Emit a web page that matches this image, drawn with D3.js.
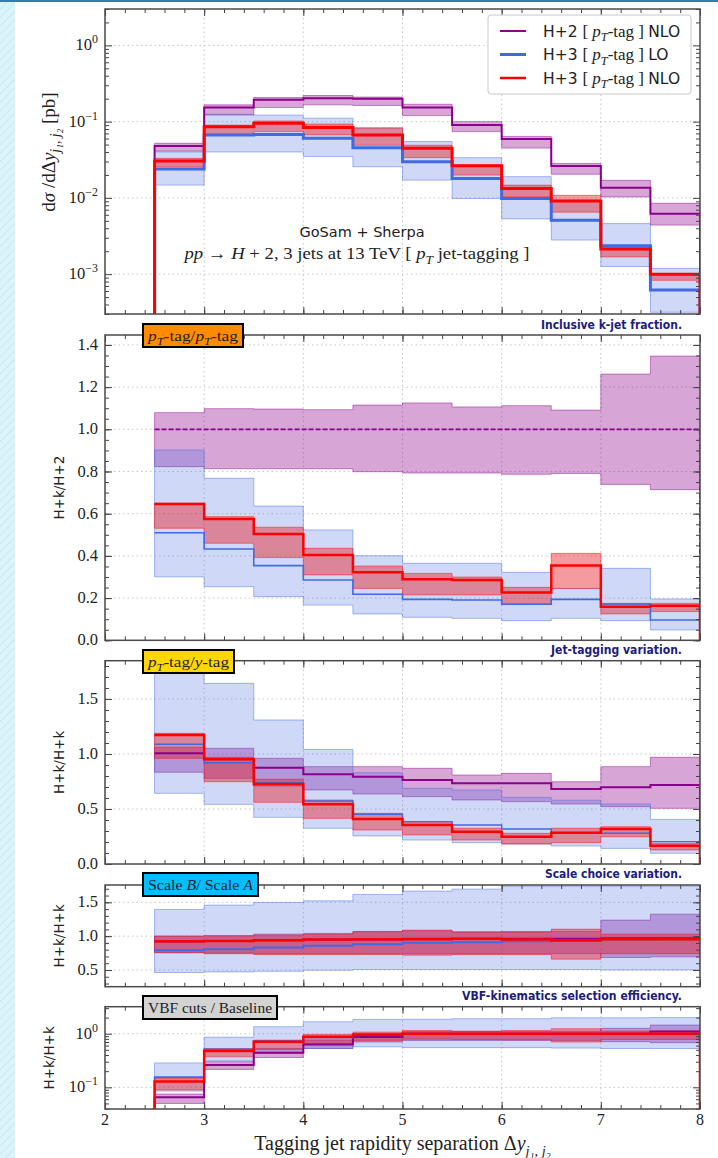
<!DOCTYPE html>
<html>
<head>
<meta charset="utf-8">
<script src="https://cdn.jsdelivr.net/npm/d3@7"></script>
<style>
body { margin: 0; background: #fff; }
svg { display: block; }
text { font-family: "Liberation Serif", "DejaVu Serif", serif; fill: #222; }
</style>
</head>
<body>
<div id="chart"></div>
<script>
// bins in Delta y_{j1,j2}
const edges = [2.5, 3, 3.5, 4, 4.5, 5, 5.5, 6, 6.5, 7, 7.5, 8];
const xMajor = [2, 3, 4, 5, 6, 7, 8];

// panel 1: d sigma / d Delta y [pb]
const xsH2 = [0.048, 0.153, 0.193, 0.203, 0.199, 0.153, 0.0905, 0.0594, 0.0262, 0.0136, 0.0062];
const xsH2Lo = [0.041, 0.122, 0.153, 0.166, 0.163, 0.12, 0.074, 0.045, 0.0204, 0.0103, 0.0044];
const xsH2Hi = [0.052, 0.166, 0.207, 0.22, 0.21, 0.169, 0.10, 0.064, 0.0283, 0.017, 0.0085];
const xsH3LO = [0.0239, 0.067, 0.068, 0.0605, 0.0456, 0.0297, 0.018, 0.0098, 0.0051, 0.00235, 0.00062];
const xsH3LOLo = [0.0147, 0.040, 0.040, 0.035, 0.0256, 0.0171, 0.0098, 0.0053, 0.0028, 0.00126, 0.000316];
const xsH3LOHi = [0.040, 0.125, 0.122, 0.111, 0.082, 0.0548, 0.0337, 0.019, 0.0093, 0.0046, 0.00119];
const xsH3 = [0.0304, 0.086, 0.095, 0.084, 0.067, 0.0448, 0.0263, 0.0133, 0.0091, 0.00213, 0.001];
const xsH3Lo = [0.0256, 0.068, 0.074, 0.067, 0.049, 0.0337, 0.0199, 0.0103, 0.0065, 0.00168, 0.00083];
const xsH3Hi = [0.033, 0.090, 0.102, 0.093, 0.083, 0.049, 0.027, 0.0147, 0.0108, 0.0023, 0.00101];

// panel 2: inclusive k-jet fraction H+k / H+2
const frH2 = [1, 1, 1, 1, 1, 1, 1, 1, 1, 1, 1];
const frH2Lo = [0.823, 0.813, 0.813, 0.813, 0.799, 0.793, 0.793, 0.787, 0.791, 0.739, 0.714];
const frH2Hi = [1.079, 1.098, 1.096, 1.093, 1.115, 1.125, 1.106, 1.112, 1.091, 1.262, 1.347];
const frH3LO = [0.51, 0.433, 0.354, 0.286, 0.218, 0.194, 0.191, 0.171, 0.194, 0.172, 0.096];
const frH3LOLo = [0.301, 0.254, 0.207, 0.167, 0.125, 0.109, 0.104, 0.093, 0.104, 0.093, 0.049];
const frH3LOHi = [0.902, 0.768, 0.636, 0.523, 0.401, 0.365, 0.365, 0.322, 0.245, 0.341, 0.196];
const frH3 = [0.646, 0.575, 0.504, 0.404, 0.322, 0.289, 0.286, 0.227, 0.354, 0.159, 0.164];
const frH3Lo = [0.531, 0.46, 0.392, 0.31, 0.246, 0.215, 0.215, 0.172, 0.246, 0.125, 0.136];
const frH3Hi = [0.65, 0.586, 0.536, 0.436, 0.352, 0.317, 0.3, 0.251, 0.412, 0.175, 0.175];

// panel 3: jet-tagging variation pT-tag / y-tag
const tgH2 = [1.006, 0.955, 0.876, 0.815, 0.794, 0.764, 0.733, 0.733, 0.682, 0.697, 0.718];
const tgH2Lo = [0.834, 0.779, 0.709, 0.673, 0.636, 0.612, 0.582, 0.567, 0.545, 0.521, 0.506];
const tgH2Hi = [1.06, 1.052, 0.961, 0.885, 0.885, 0.870, 0.809, 0.824, 0.748, 0.885, 0.97];
const tgH3LO = [1.088, 0.921, 0.74, 0.573, 0.452, 0.385, 0.355, 0.318, 0.285, 0.279, 0.203];
const tgH3LOLo = [0.642, 0.542, 0.424, 0.325, 0.255, 0.218, 0.194, 0.182, 0.164, 0.142, 0.097];
const tgH3LOHi = [1.95, 1.642, 1.309, 1.042, 0.83, 0.688, 0.673, 0.606, 0.58, 0.545, 0.406];
const tgH3 = [1.173, 0.952, 0.727, 0.542, 0.409, 0.355, 0.294, 0.248, 0.285, 0.318, 0.167];
const tgH3Lo = [0.961, 0.748, 0.561, 0.415, 0.309, 0.264, 0.218, 0.182, 0.194, 0.248, 0.127];
const tgH3Hi = [1.188, 0.97, 0.77, 0.582, 0.461, 0.384, 0.325, 0.279, 0.325, 0.339, 0.188];

// panel 4: scale choice variation scale B / scale A
const scH2 = [0.92, 0.93, 0.94, 0.95, 0.95, 0.96, 0.96, 0.96, 0.96, 0.97, 0.97];
const scH2Lo = [0.76, 0.75, 0.74, 0.74, 0.74, 0.74, 0.74, 0.74, 0.74, 0.685, 0.694];
const scH2Hi = [1.0, 1.01, 1.03, 1.04, 1.07, 1.08, 1.06, 1.07, 1.07, 1.237, 1.325];
const scH3LO = [0.793, 0.808, 0.832, 0.857, 0.882, 0.901, 0.91, 0.926, 0.935, 0.951, 0.955];
const scH3LOLo = [0.463, 0.472, 0.48, 0.497, 0.507, 0.507, 0.507, 0.507, 0.507, 0.5, 0.5];
const scH3LOHi = [1.395, 1.459, 1.498, 1.522, 1.617, 1.666, 1.695, 1.74, 1.74, 1.74, 1.74];
const scH3 = [0.926, 0.93, 0.941, 0.951, 0.956, 0.956, 0.96, 0.95, 0.935, 0.956, 0.956];
const scH3Lo = [0.753, 0.74, 0.729, 0.729, 0.729, 0.719, 0.729, 0.73, 0.66, 0.74, 0.74];
const scH3Hi = [1.0, 1.0, 1.015, 1.03, 1.064, 1.089, 1.064, 1.06, 1.104, 1.03, 1.03];

// panel 5: VBF cuts / baseline
const vbH2 = [0.065, 0.26, 0.44, 0.63, 0.87, 1.0, 1.0, 1.0, 1.0, 1.0, 1.1];
const vbH2Lo = [0.05, 0.216, 0.36, 0.53, 0.7, 0.75, 0.75, 0.75, 0.75, 0.71, 0.68];
const vbH2Hi = [0.075, 0.30, 0.53, 0.76, 1.0, 1.1, 1.1, 1.1, 1.1, 1.26, 1.45];
const vbH3LO = [0.155, 0.51, 0.73, 0.85, 0.98, 0.98, 0.98, 0.98, 0.98, 0.98, 0.98];
const vbH3LOLo = [0.085, 0.31, 0.43, 0.53, 0.57, 0.55, 0.55, 0.55, 0.54, 0.53, 0.53];
const vbH3LOHi = [0.285, 0.86, 1.35, 1.67, 1.85, 1.86, 1.9, 1.9, 1.98, 1.98, 2.0];
const vbH3 = [0.128, 0.475, 0.71, 0.88, 0.96, 1.0, 1.0, 1.0, 1.0, 1.0, 1.0];
const vbH3Lo = [0.089, 0.37, 0.51, 0.66, 0.75, 0.79, 0.78, 0.77, 0.7, 0.78, 0.78];
const vbH3Hi = [0.147, 0.53, 0.76, 0.97, 1.07, 1.15, 1.12, 1.15, 1.24, 1.12, 1.12];

const purple = "#8b008b", blue = "#4169e1", red = "#ff0000";

const width = 718, height = 1158;
const xLeft = 105, xRight = 700;

const svg = d3.select("#chart").append("svg")
    .attr("width", width)
    .attr("height", height);

// page decoration: hatched strip on the left, blue rule on top
const defs = svg.append("defs");
const hatch = defs.append("pattern")
    .attr("id", "hatch")
    .attr("patternUnits", "userSpaceOnUse")
    .attr("width", 6).attr("height", 6)
    .attr("patternTransform", "rotate(45)");
hatch.append("rect").attr("width", 6).attr("height", 6).attr("fill", "#dcf3fa");
hatch.append("line").attr("x1", 0).attr("y1", 0).attr("x2", 0).attr("y2", 6)
    .attr("stroke", "#c4eaf5").attr("stroke-width", 2);
svg.append("rect").attr("x", 0).attr("y", 0).attr("width", 15).attr("height", height)
    .attr("fill", "url(#hatch)");
svg.append("rect").attr("x", 0).attr("y", 0).attr("width", width).attr("height", 2)
    .attr("fill", "#2b7fae");

const x = d3.scaleLinear().domain([2, 8]).range([xLeft, xRight]);

// rich text helper: parts with italic / sub / sup
function rich(sel, parts, size) {
    let shift = 0;
    parts.forEach(p => {
        const target = p.sub ? size * 0.28 : p.sup ? -size * 0.42 : 0;
        const ts = sel.append("tspan").attr("dy", target - shift).text(p.t);
        shift = target;
        if (p.it) ts.style("font-style", "italic");
        if (p.sub || p.sup) ts.style("font-size", (size * 0.72) + "px");
        if (p.font) ts.style("font-family", p.font);
        if (p.size) ts.style("font-size", p.size + "px");
    });
}

function band(c, lo, hi, color) { return { c, lo, hi, color }; }

const panels = [
    {
        top: 9, bottom: 314, log: true, domain: [3e-4, 3],
        majors: [1e-3, 1e-2, 1e-1, 1], dropStart: true, dropEnd: true,
        series: [band(xsH2, xsH2Lo, xsH2Hi, purple), band(xsH3LO, xsH3LOLo, xsH3LOHi, blue), band(xsH3, xsH3Lo, xsH3Hi, red)],
        widths: [2, 3, 3]
    },
    {
        top: 335, bottom: 640.3, log: false, domain: [0, 1.447],
        majors: d3.range(0, 1.41, 0.2), minors: d3.range(0, 1.45, 0.05), fmt: d3.format(".1f"),
        dropEnd: true, dash: "5,2",
        series: [band(frH2, frH2Lo, frH2Hi, purple), band(frH3LO, frH3LOLo, frH3LOHi, blue), band(frH3, frH3Lo, frH3Hi, red)],
        widths: [1.8, 1.6, 2.5], ylabel: "H+k/H+2", ylabelX: 64,
        box: { y: 324, w: 100, fill: "#ff8c00", parts: [{ t: "p", it: 1 }, { t: "T", it: 1, sub: 1 }, { t: "-tag/" }, { t: "p", it: 1 }, { t: "T", it: 1, sub: 1 }, { t: "-tag" }] },
        note: "Inclusive k-jet fraction.", noteY: 329, noteW: 141
    },
    {
        top: 660.7, bottom: 864, log: false, domain: [0, 1.848],
        majors: [0, 0.5, 1, 1.5], minors: d3.range(0, 1.85, 0.1), fmt: d3.format(".1f"),
        dropEnd: true,
        series: [band(tgH2, tgH2Lo, tgH2Hi, purple), band(tgH3LO, tgH3LOLo, tgH3LOHi, blue), band(tgH3, tgH3Lo, tgH3Hi, red)],
        widths: [2, 1.4, 2.5], ylabel: "H+k/H+k", ylabelX: 64,
        box: { y: 650, w: 91, fill: "#ffd700", parts: [{ t: "p", it: 1 }, { t: "T", it: 1, sub: 1 }, { t: "-tag/" }, { t: "y", it: 1 }, { t: "-tag" }] },
        note: "Jet-tagging variation.", noteY: 654, noteW: 131
    },
    {
        top: 885, bottom: 986.7, log: false, domain: [0.253, 1.756],
        majors: [0.5, 1, 1.5], minors: d3.range(0.3, 1.75, 0.1), fmt: d3.format(".1f"),
        series: [band(scH2, scH2Lo, scH2Hi, purple), band(scH3LO, scH3LOLo, scH3LOHi, blue), band(scH3, scH3Lo, scH3Hi, red)],
        widths: [2, 2, 2.5], ylabel: "H+k/H+k", ylabelX: 64,
        box: { y: 873, w: 115, fill: "#00bfff", parts: [{ t: "Scale " }, { t: "B", it: 1 }, { t: "/ Scale " }, { t: "A", it: 1 }] },
        note: "Scale choice variation.", noteY: 878, noteW: 137
    },
    {
        top: 1006.7, bottom: 1109, log: true, domain: [0.0394, 3.19],
        majors: [0.1, 1], dropStart: true, dropEnd: true,
        series: [band(vbH2, vbH2Lo, vbH2Hi, purple), band(vbH3LO, vbH3LOLo, vbH3LOHi, blue), band(vbH3, vbH3Lo, vbH3Hi, red)],
        widths: [2, 1.6, 2.5], ylabel: "H+k/H+k", ylabelX: 54,
        box: { y: 996, w: 134, fill: "#d3d3d3", parts: [{ t: "VBF cuts / Baseline" }] },
        note: "VBF-kinematics selection efficiency.", noteY: 1000, noteW: 220
    }
];

const bandOpacity = { [purple]: 0.35, [blue]: 0.25, [red]: 0.45 };
const bandFill = { [purple]: purple, [blue]: blue, [red]: "#e8202a" };

panels.forEach((p, pi) => {
    const y = (p.log ? d3.scaleLog() : d3.scaleLinear()).domain(p.domain).range([p.bottom, p.top]);
    const g = svg.append("g");

    const clipId = "clip" + pi;
    defs.append("clipPath").attr("id", clipId).append("rect")
        .attr("x", xLeft).attr("y", p.top).attr("width", xRight - xLeft).attr("height", p.bottom - p.top);

    // grid
    const grid = g.append("g").attr("stroke", "#b8b8b8").attr("stroke-width", 0.8).attr("stroke-dasharray", "1.5,3");
    grid.selectAll(".gx").data(xMajor.slice(1, -1)).enter().append("line")
        .attr("x1", d => x(d)).attr("x2", d => x(d)).attr("y1", p.top).attr("y2", p.bottom);
    grid.selectAll(".gy").data(p.majors.filter(v => y(v) < p.bottom - 1 && y(v) > p.top + 1)).enter().append("line")
        .attr("x1", xLeft).attr("x2", xRight).attr("y1", d => y(d)).attr("y2", d => y(d));

    function pts(vals) {
        const out = edges.slice(0, -1).map((e, i) => [e, vals[i]]);
        out.push([edges[edges.length - 1], vals[vals.length - 1]]);
        return out;
    }
    const plot = g.append("g").attr("clip-path", `url(#${clipId})`);
    const area = d3.area().curve(d3.curveStepAfter)
        .x(d => x(d[0])).y0(d => y(Math.max(d[1], p.domain[0] * 0.5))).y1(d => y(d[2]));

    p.series.forEach(s => {
        const rows = edges.slice(0, -1).map((e, i) => [e, s.lo[i], s.hi[i]]);
        rows.push([edges[edges.length - 1], s.lo[s.lo.length - 1], s.hi[s.hi.length - 1]]);
        plot.append("path").datum(rows)
            .attr("d", area)
            .attr("fill", bandFill[s.color]).attr("fill-opacity", bandOpacity[s.color])
            .attr("stroke", s.color).attr("stroke-opacity", 0.45).attr("stroke-width", 1);
    });

    // null = drop to the panel floor at the histogram edges
    const line = d3.line().curve(d3.curveStepAfter)
        .x(d => x(d[0])).y(d => d[1] === null ? p.bottom + 5 : y(d[1]));
    p.series.forEach((s, si) => {
        const data = pts(s.c);
        if (p.dropStart) data.unshift([edges[0], null]);
        if (p.dropEnd) data.push([edges[edges.length - 1], null]);
        plot.append("path").datum(data)
            .attr("d", line)
            .attr("fill", "none")
            .attr("stroke", s.color)
            .attr("stroke-width", p.widths[si])
            .attr("stroke-dasharray", si === 0 && p.dash ? p.dash : null);
    });

    // ticks on all four sides, pointing inward
    const tickG = g.append("g");
    function addAxis(axis, tx, ty) {
        const a = tickG.append("g").attr("transform", `translate(${tx},${ty})`).call(axis);
        a.select(".domain").remove();
        a.selectAll("line").attr("stroke", "#444");
    }
    const xMinor = d3.range(2, 8.01, 0.2);
    addAxis(d3.axisBottom(x).tickValues(xMajor).tickSize(-7).tickFormat(""), 0, p.bottom);
    addAxis(d3.axisBottom(x).tickValues(xMinor).tickSize(-4).tickFormat(""), 0, p.bottom);
    addAxis(d3.axisTop(x).tickValues(xMajor).tickSize(-7).tickFormat(""), 0, p.top);
    addAxis(d3.axisTop(x).tickValues(xMinor).tickSize(-4).tickFormat(""), 0, p.top);

    let yMinor;
    if (p.log) {
        yMinor = [];
        const e0 = Math.floor(Math.log10(p.domain[0])), e1 = Math.ceil(Math.log10(p.domain[1]));
        for (let e = e0; e <= e1; e++)
            for (let k = 2; k < 10; k++) {
                const v = k * Math.pow(10, e);
                if (v >= p.domain[0] && v <= p.domain[1]) yMinor.push(v);
            }
    } else {
        yMinor = p.minors.filter(v => v >= p.domain[0] && v <= p.domain[1]);
    }
    addAxis(d3.axisLeft(y).tickValues(p.majors).tickSize(-7).tickFormat(""), xLeft, 0);
    addAxis(d3.axisLeft(y).tickValues(yMinor).tickSize(-4).tickFormat(""), xLeft, 0);
    addAxis(d3.axisRight(y).tickValues(p.majors).tickSize(-7).tickFormat(""), xRight, 0);
    addAxis(d3.axisRight(y).tickValues(yMinor).tickSize(-4).tickFormat(""), xRight, 0);

    // frame
    g.append("rect")
        .attr("x", xLeft).attr("y", p.top)
        .attr("width", xRight - xLeft).attr("height", p.bottom - p.top)
        .attr("fill", "none").attr("stroke", "#4a4a4a").attr("stroke-width", 1.5);

    // y tick labels
    p.majors.forEach(v => {
        const t = g.append("text")
            .attr("x", 98).attr("y", y(v) + 5)
            .attr("text-anchor", "end")
            .style("font-size", "16.5px");
        if (p.log) {
            rich(t, [{ t: "10" }, { t: Math.log10(v) === 0 ? "0" : "\u2212" + Math.round(-Math.log10(v)), sup: 1 }], 16.5);
        } else {
            t.text(p.fmt(v));
        }
    });

    if (p.ylabel) {
        g.append("text")
            .attr("transform", `translate(${p.ylabelX},${(p.top + p.bottom) / 2}) rotate(-90)`)
            .attr("text-anchor", "middle")
            .style("font-family", "DejaVu Sans, sans-serif")
            .style("font-size", "13.5px")
            .text(p.ylabel);
    }

    if (p.box) {
        const bg = svg.append("g");
        bg.append("rect")
            .attr("x", 143).attr("y", p.box.y)
            .attr("width", p.box.w).attr("height", 23)
            .attr("fill", p.box.fill).attr("stroke", "#000").attr("stroke-width", 2);
        const t = bg.append("text")
            .attr("x", 148).attr("y", p.box.y + 16.5)
            .attr("textLength", p.box.w - 10)
            .attr("lengthAdjust", "spacingAndGlyphs")
            .style("font-size", "15.5px");
        rich(t, p.box.parts, 15.5);
    }

    if (p.note) {
        svg.append("text")
            .attr("x", 682).attr("y", p.noteY)
            .attr("text-anchor", "end")
            .attr("textLength", p.noteW)
            .attr("lengthAdjust", "spacingAndGlyphs")
            .style("font-family", "DejaVu Sans, sans-serif")
            .style("font-weight", "bold")
            .style("font-size", "12px")
            .style("fill", "#1c1c7c")
            .text(p.note);
    }
});

// top panel y label
const yl = svg.append("text")
    .attr("transform", "translate(55,152) rotate(-90)")
    .attr("text-anchor", "middle")
    .style("font-size", "19px");
rich(yl, [{ t: "d" }, { t: "\u03c3", it: 1 }, { t: " /d\u0394" }, { t: "y", it: 1 }, { t: "j\u2081, j\u2082", it: 1, sub: 1 }, { t: "  [pb]" }], 19);

// process labels
svg.append("text")
    .attr("x", 362).attr("y", 237)
    .attr("text-anchor", "middle")
    .style("font-family", "DejaVu Sans, sans-serif")
    .style("font-size", "14.5px")
    .text("GoSam + Sherpa");
const proc = svg.append("text")
    .attr("x", 357).attr("y", 259)
    .attr("text-anchor", "middle")
    .attr("textLength", 345)
    .attr("lengthAdjust", "spacingAndGlyphs")
    .style("font-size", "17.5px");
rich(proc, [{ t: "pp", it: 1 }, { t: " \u2192 " }, { t: "H", it: 1 }, { t: " + 2, 3 jets at 13 TeV   [ " }, { t: "p", it: 1 }, { t: "T", it: 1, sub: 1 }, { t: " jet-tagging ]" }], 17.5);

// legend
const legendItems = [
    { name: "H+2", order: "NLO", color: purple, w: 2 },
    { name: "H+3", order: "LO", color: blue, w: 3 },
    { name: "H+3", order: "NLO", color: red, w: 2.5 }
];
const leg = svg.append("g");
leg.append("rect")
    .attr("x", 488).attr("y", 15).attr("width", 203).attr("height", 79)
    .attr("rx", 3)
    .attr("fill", "#fff").attr("stroke", "#c8c8c8");
legendItems.forEach((d, i) => {
    const ly = 31 + i * 23.5;
    leg.append("line")
        .attr("x1", 500).attr("x2", 526).attr("y1", ly).attr("y2", ly)
        .attr("stroke", d.color).attr("stroke-width", d.w);
    const t = leg.append("text")
        .attr("x", 543).attr("y", ly + 5.5)
        .style("font-size", "17px");
    rich(t, [
        { t: d.name + " ", font: "DejaVu Sans, sans-serif", size: 15.5 }, { t: "[ " }, { t: "p", it: 1 }, { t: "T", it: 1, sub: 1 },
        { t: "-tag ] " }, { t: d.order, font: "DejaVu Sans, sans-serif", size: 15.5 }
    ], 17);
});

// x tick labels and title
xMajor.forEach(v => {
    svg.append("text")
        .attr("x", x(v)).attr("y", 1125)
        .attr("text-anchor", "middle")
        .style("font-size", "16px")
        .text(v);
});
const xt = svg.append("text")
    .attr("x", (xLeft + xRight) / 2).attr("y", 1150)
    .attr("text-anchor", "middle")
    .style("font-size", "20px");
rich(xt, [{ t: "Tagging jet rapidity separation  \u0394" }, { t: "y", it: 1 }, { t: "j\u2081, j\u2082", it: 1, sub: 1 }], 20);
</script>
</body>
</html>
